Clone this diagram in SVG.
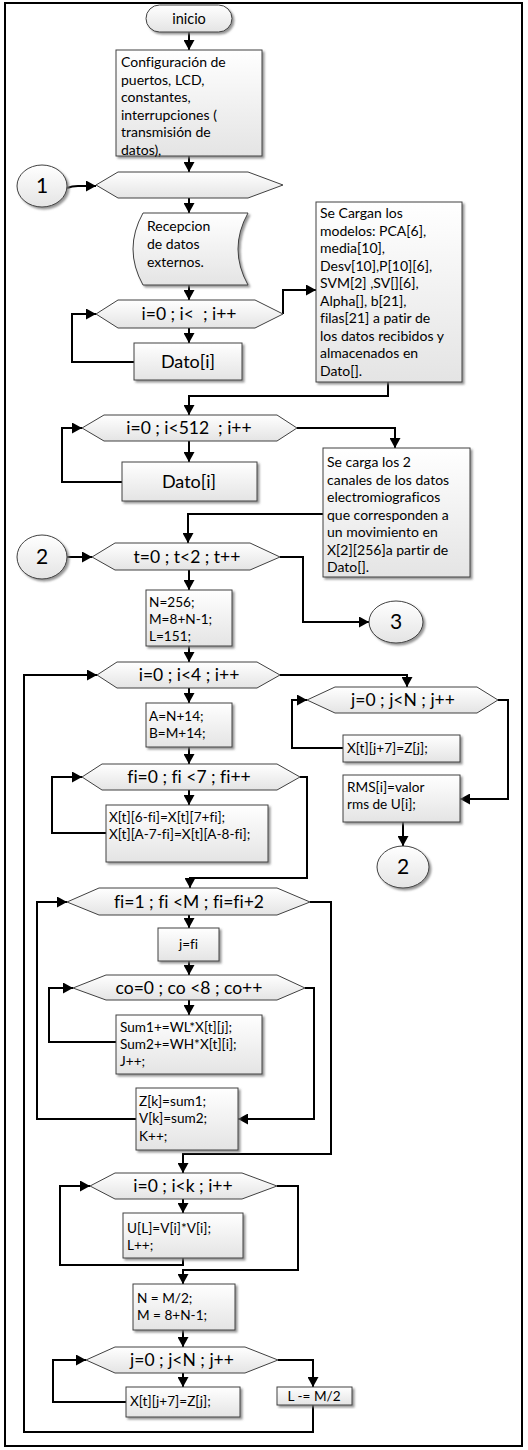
<svg xmlns="http://www.w3.org/2000/svg" width="528" height="1450" viewBox="0 0 528 1450">
<defs>
<linearGradient id="g" x1="0" y1="0" x2="0" y2="1"><stop offset="0" stop-color="#ffffff"/><stop offset="1" stop-color="#e4e4e4"/></linearGradient>
<filter id="sh" x="-10%" y="-10%" width="130%" height="130%"><feDropShadow dx="2" dy="2" stdDeviation="1" flood-color="#7a7a7a" flood-opacity="0.8"/></filter>
<marker id="ah" markerUnits="userSpaceOnUse" markerWidth="11" markerHeight="11" refX="10" refY="5.5" orient="auto"><path d="M0,0 L10,5.5 L0,11 z" fill="#000"/></marker>
<style>
.s{fill:url(#g);stroke:#404040;stroke-width:1;filter:url(#sh)}
.h{fill:url(#g);stroke:#404040;stroke-width:1}
.c{fill:none;stroke:#000;stroke-width:2}
.a{marker-end:url(#ah)}
text{font-family:Lato,"Liberation Sans",sans-serif;fill:#000;font-weight:400;font-variant-ligatures:none}
.t13{font-size:14px}
.t12{font-size:13.6px}
.t16{font-size:17.5px;text-anchor:middle;white-space:pre}
.td{font-size:18px;text-anchor:middle}
.t20{font-size:21px;text-anchor:middle}
</style>
</defs>
<rect x="5" y="3" width="517" height="1443" fill="#fff" stroke="#000" stroke-width="2"/>
<g id="connectors">
<path class="c a" d="M189,32 V50"/>
<path class="c a" d="M189,156 V172"/>
<path class="c a" d="M67,188 Q72,186 78,186 H96"/>
<path class="c a" d="M189,198 V213"/>
<path class="c a" d="M189,285 V300"/>
<path class="c a" d="M189,328 V343"/>
<path class="c a" d="M134,362 H72 V314 H96"/>
<path class="c a" d="M283,314 V290 H316"/>
<path class="c a" d="M388,382 V396 H189 V415"/>
<path class="c a" d="M189,441 V462"/>
<path class="c a" d="M122,482 H62 V428 H82"/>
<path class="c a" d="M297,428 H395 V448"/>
<path class="c a" d="M323,514 H188 V543"/>
<path class="c a" d="M67,557 H92"/>
<path class="c a" d="M280,557 H303 V622 H369"/>
<path class="c a" d="M189,570 V590"/>
<path class="c a" d="M189,646 V662"/>
<path class="c a" d="M189,688 V703"/>
<path class="c a" d="M280,675 H407 V687"/>
<path class="c a" d="M189,747 V764"/>
<path class="c a" d="M189,790 V805"/>
<path class="c a" d="M106,833 H52 V777 H82"/>
<path class="c a" d="M300,777 H307 V878 H190 V888"/>
<path class="c a" d="M189,915 V928"/>
<path class="c a" d="M189,961 V975"/>
<path class="c a" d="M189,1000 V1015"/>
<path class="c a" d="M116,1042 H49 V988 H73"/>
<path class="c a" d="M305,988 H314 V1119 H238"/>
<path class="c a" d="M136,1119 H37 V902 H67"/>
<path class="c a" d="M310,902 H331 V1154 H183 V1173"/>
<path class="c a" d="M183,1199 V1213"/>
<path class="c a" d="M183,1258 V1265 H60 V1186 H90"/>
<path class="c a" d="M277,1186 H298 V1270 H183 V1284"/>
<path class="c a" d="M183,1330 V1347"/>
<path class="c a" d="M183,1373 V1387"/>
<path class="c a" d="M126,1402 H53 V1360 H86"/>
<path class="c a" d="M278,1360 H313 V1387"/>
<path class="c a" d="M313,1405 V1432 H24 V675 H97"/>
<path class="c a" d="M343,748 H292 V700 H307"/>
<path class="c a" d="M498,700 H508 V799 H460"/>
<path class="c a" d="M403,822 V846"/>
</g>
<g id="inicio"><rect class="s" x="146" y="5" width="86" height="27" rx="13.5"/><text class="td" x="189" y="24" style="font-size:14.5px">inicio</text></g>
<g id="config"><rect class="s" x="116" y="50" width="146" height="106"/>
<text class="t13"><tspan x="121" y="67">Configuración de</tspan><tspan x="121" y="84.5">puertos, LCD,</tspan><tspan x="121" y="102">constantes,</tspan><tspan x="121" y="119.5">interrupciones (</tspan><tspan x="121" y="137">transmisión de</tspan><tspan x="121" y="154.5">datos),</tspan></text></g>
<g id="c1"><ellipse class="s" cx="42" cy="186" rx="25" ry="21"/><text class="t20" x="42" y="193">1</text></g>
<g id="hex1"><polygon class="h" points="96,185 118,172 248,172 283,185 248,198 118,198"/></g>
<g id="recep"><path class="s" d="M143,213 L248,213 Q228,249 248,285 L143,285 Q123,249 143,213 z"/>
<text class="t13"><tspan x="147" y="231">Recepcion</tspan><tspan x="147" y="249">de datos</tspan><tspan x="147" y="267">externos.</tspan></text></g>
<g id="hex2"><polygon class="h" points="96,314 118,300 255,300 283,314 255,328 118,328"/><text class="t16" x="189" y="320">i=0 ; i&lt;  ; i++</text></g>
<g id="dato1"><rect class="s" x="134" y="343" width="108" height="37"/><text class="td" x="188" y="368">Dato[i]</text></g>
<g id="modelos"><rect class="s" x="316" y="202" width="146" height="180"/>
<text class="t13"><tspan x="320" y="218">Se Cargan los</tspan><tspan x="320" y="235.5">modelos: PCA[6],</tspan><tspan x="320" y="253">media[10],</tspan><tspan x="320" y="270.5">Desv[10],P[10][6],</tspan><tspan x="320" y="288">SVM[2] ,SV[][6],</tspan><tspan x="320" y="305.5">Alpha[], b[21],</tspan><tspan x="320" y="323">filas[21] a patir de</tspan><tspan x="320" y="340.5">los datos recibidos y</tspan><tspan x="320" y="358">almacenados en</tspan><tspan x="320" y="375.5">Dato[].</tspan></text></g>
<g id="hex3"><polygon class="h" points="82,428 104,415 277,415 297,428 277,441 104,441"/><text class="t16" x="189" y="434">i=0 ; i&lt;512  ; i++</text></g>
<g id="dato2"><rect class="s" x="122" y="462" width="135" height="39"/><text class="td" x="189" y="488">Dato[i]</text></g>
<g id="secarga"><rect class="s" x="323" y="448" width="147" height="129"/>
<text class="t13"><tspan x="327" y="467">Se carga los 2</tspan><tspan x="327" y="484.5">canales de los datos</tspan><tspan x="327" y="502">electromiograficos</tspan><tspan x="327" y="519.5">que corresponden a</tspan><tspan x="327" y="537">un movimiento en</tspan><tspan x="327" y="554.5">X[2][256]a partir de</tspan><tspan x="327" y="572">Dato[].</tspan></text></g>
<g id="c2a"><ellipse class="s" cx="42" cy="557" rx="25" ry="22"/><text class="t20" x="42" y="564">2</text></g>
<g id="hex4"><polygon class="h" points="92,557 115,543 250,543 280,557 250,570 115,570"/><text class="t16" x="187" y="563">t=0 ; t&lt;2 ; t++</text></g>
<g id="c3"><ellipse class="s" cx="396" cy="622" rx="27" ry="21"/><text class="t20" x="396" y="629">3</text></g>
<g id="nbox"><rect class="s" x="146" y="590" width="86" height="56"/>
<text class="t12"><tspan x="149" y="607">N=256;</tspan><tspan x="149" y="624">M=8+N-1;</tspan><tspan x="149" y="641">L=151;</tspan></text></g>
<g id="hex5"><polygon class="h" points="97,675 117,662 257,662 280,675 257,688 117,688"/><text class="t16" x="189" y="681">i=0 ; i&lt;4 ; i++</text></g>
<g id="abox"><rect class="s" x="146" y="703" width="86" height="44"/>
<text class="t12"><tspan x="149" y="721">A=N+14;</tspan><tspan x="149" y="738">B=M+14;</tspan></text></g>
<g id="fi0"><polygon class="h" points="82,777 102,764 277,764 300,777 277,790 102,790"/><text class="t16" x="189" y="783">fi=0 ; fi &lt;7 ; fi++</text></g>
<g id="xbox1"><rect class="s" x="106" y="805" width="162" height="57"/>
<text class="t12"><tspan x="109" y="822">X[t][6-fi]=X[t][7+fi];</tspan><tspan x="109" y="839">X[t][A-7-fi]=X[t][A-8-fi];</tspan></text></g>
<g id="fi1"><polygon class="h" points="67,902 99,888 277,888 310,902 277,915 99,915"/><text class="t16" x="189" y="908">fi=1 ; fi &lt;M ; fi=fi+2</text></g>
<g id="jfi"><rect class="s" x="158" y="928" width="61" height="33"/><text class="t12" x="188.5" y="949" text-anchor="middle">j=fi</text></g>
<g id="co"><polygon class="h" points="73,988 106,975 277,975 305,988 277,1000 106,1000"/><text class="t16" x="189" y="994">co=0 ; co &lt;8 ; co++</text></g>
<g id="sum"><rect class="s" x="116" y="1015" width="146" height="59"/>
<text class="t12"><tspan x="120" y="1032">Sum1+=WL*X[t][j];</tspan><tspan x="120" y="1049">Sum2+=WH*X[t][i];</tspan><tspan x="120" y="1066">J++;</tspan></text></g>
<g id="zbox"><rect class="s" x="136" y="1088" width="102" height="62"/>
<text class="t12"><tspan x="139" y="1106">Z[k]=sum1;</tspan><tspan x="139" y="1123">V[k]=sum2;</tspan><tspan x="139" y="1141">K++;</tspan></text></g>
<g id="ik"><polygon class="h" points="90,1186 115,1173 242,1173 277,1186 242,1199 115,1199"/><text class="t16" x="183" y="1192">i=0 ; i&lt;k ; i++</text></g>
<g id="ubox"><rect class="s" x="123" y="1213" width="120" height="45"/>
<text class="t12"><tspan x="127" y="1233">U[L]=V[i]*V[i];</tspan><tspan x="127" y="1250">L++;</tspan></text></g>
<g id="nm"><rect class="s" x="133" y="1284" width="102" height="46"/>
<text class="t12"><tspan x="137" y="1303">N = M/2;</tspan><tspan x="137" y="1320">M = 8+N-1;</tspan></text></g>
<g id="jhex"><polygon class="h" points="86,1360 115,1347 245,1347 278,1360 245,1373 115,1373"/><text class="t16" x="182" y="1366">j=0 ; j&lt;N ; j++</text></g>
<g id="xbox2"><rect class="s" x="126" y="1387" width="114" height="30"/><text class="t12" x="130" y="1406">X[t][j+7]=Z[j];</text></g>
<g id="lbox"><rect class="s" x="277" y="1387" width="75" height="18"/><text class="t12" x="314" y="1401" text-anchor="middle">L -= M/2</text></g>
<g id="jN"><polygon class="h" points="307,700 335,687 477,687 498,700 477,713 335,713"/><text class="t16" x="403" y="706">j=0 ; j&lt;N ; j++</text></g>
<g id="xbox3"><rect class="s" x="343" y="735" width="117" height="27"/><text class="t12" x="347" y="753">X[t][j+7]=Z[j];</text></g>
<g id="rms"><rect class="s" x="343" y="775" width="117" height="47"/>
<text class="t12"><tspan x="347" y="792">RMS[i]=valor</tspan><tspan x="347" y="809">rms de U[i];</tspan></text></g>
<g id="c2b"><ellipse class="s" cx="403" cy="867" rx="26" ry="21"/><text class="t20" x="403" y="874">2</text></g>
</svg>
